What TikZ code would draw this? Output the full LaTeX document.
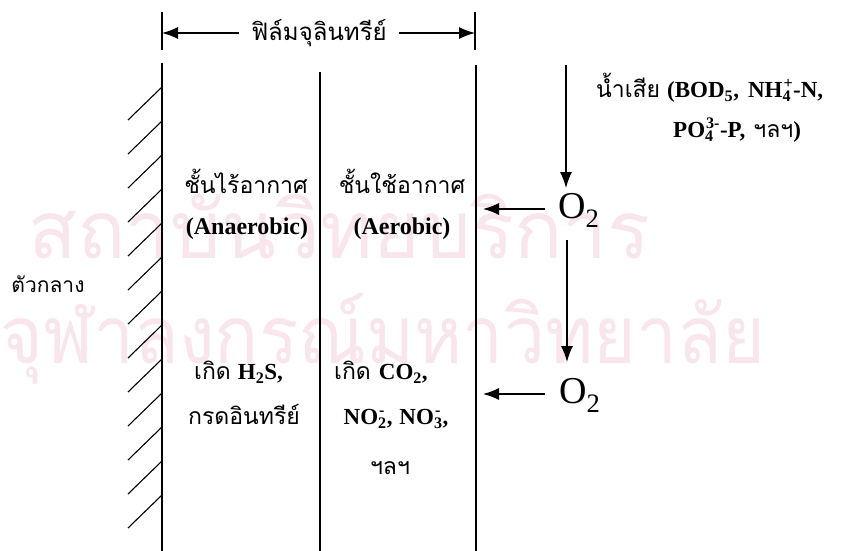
\documentclass[tikz,border=0pt]{standalone}
\usepackage{fontspec}
\setmainfont{Liberation Serif}
\newfontfamily\thai[Script=Thai]{Loma}
\usetikzlibrary{arrows.meta}
\definecolor{wm}{RGB}{249,229,236}
\newcommand\ssub[1]{\textsubscript{#1}}
\newcommand\sbsp[2]{{\setbox0=\hbox{\textsubscript{#1}}\setbox2=\hbox{\kern1pt\textsuperscript{#2}}%
  \ifdim\wd0>\wd2 \rlap{\box2}\box0\else\rlap{\box0}\box2\fi}}
\begin{document}
\begin{tikzpicture}[x=1pt,y=-1pt,
  ln/.style={line width=1.3pt},
  arr/.style={line width=1.3pt,-{Latex[length=16pt,width=12pt]}},
  th/.style={font=\thai\fontsize{23}{27}\selectfont, inner sep=0pt},
  lat/.style={font=\bfseries\fontsize{24}{28}\selectfont, inner sep=0pt},
  mix/.style={font=\fontsize{23}{27}\selectfont, inner sep=0pt},
  oxy/.style={font=\fontsize{38}{42}\selectfont, inner sep=0pt},
  wmk/.style={font=\thai\fontsize{80}{90}\selectfont, text=wm, inner sep=0pt}]
\useasboundingbox (0,0) rectangle (843,551);
% watermark
\node[wmk, anchor=base west] (wm1) at (28,258) {สถาบันวิทยบริการ};
\node[wmk, anchor=base west] (wm2) at (0,363) {\scalebox{0.915}[1]{จุฬาลงกรณ์มหาวิทยาลัย}};
% film dimension
\coordinate (tlA) at (162,12); \coordinate (tlB) at (162,50);
\coordinate (trA) at (475,12); \coordinate (trB) at (475,50);
\draw[ln] (tlA) -- (tlB);
\draw[ln] (trA) -- (trB);
\node[th, font=\thai\fontsize{24}{28}\selectfont] (film) at (319,33) {ฟิล์มจุลินทรีย์};
\coordinate (dl) at (162,33); \coordinate (dr) at (475,33);
\draw[arr] ([xshift=-12pt]film.west) -- (dl);
\draw[arr] ([xshift=12pt]film.east) -- (dr);
% vertical lines
\coordinate (w1) at (162,63); \coordinate (w2) at (162,551);
\coordinate (m1) at (320,72); \coordinate (m2) at (320,551);
\coordinate (r1) at (476,65); \coordinate (r2) at (476,551);
\draw[ln] (w1) -- (w2);
\draw[ln] (m1) -- (m2);
\draw[ln] (r1) -- (r2);
% hatching
\foreach \k in {0,...,12}{
  \draw[line width=1.1pt] (162,87+34*\k) -- (128,120+34*\k);
}
\node[th, font=\thai\fontsize{21}{25}\selectfont] (medium) at (48,284) {ตัวกลาง};
% anaerobic column
\node[th] (an1) at (246,181) {ชั้นไร้อากาศ};
\node[lat] (an2) at (247,229) {(Anaerobic)};
\node[mix, anchor=west] (an3) at (194,372) {{\thai เกิด}\hspace{7pt}\textbf{H\ssub{2}S,}};
\node[th] (an4) at (244,414) {กรดอินทรีย์};
% aerobic column
\node[th] (ae1) at (402,181) {ชั้นใช้อากาศ};
\node[lat] (ae2) at (402,229) {(Aerobic)};
\node[mix, anchor=west] (ae3) at (334,372) {{\thai เกิด}\hspace{8pt}\textbf{CO\ssub{2},}};
\node[lat, font=\bfseries\fontsize{23}{27}\selectfont] (ae4) at (396,419) {NO\sbsp{2}{-},\hspace{7pt}NO\sbsp{3}{-},};
\node[th] (ae5) at (390,468) {ฯลฯ};
% oxygen
\node[oxy, anchor=west] (o1) at (558,210) {O\ssub{2}};
\node[oxy, anchor=west] (o2) at (559,395) {O\ssub{2}};
\coordinate (o1s) at (545,209);
\coordinate (o2s) at (545,394);
\coordinate (o1e) at (483,209);
\coordinate (o2e) at (483,394);
\draw[arr] (o1s) -- (o1e);
\draw[arr] (o2s) -- (o2e);
\coordinate (topin) at (566,65);
\coordinate (topout) at (566,188);
\draw[arr] (topin) -- (topout);
\coordinate (mdA) at (567,240);
\coordinate (mdB) at (567,362);
\draw[arr] (mdA) -- (mdB);
% waste water
\node[mix, anchor=west] (ww1) at (596,88) {{\thai น้ำเสีย}\hspace{7pt}\textbf{(BOD\ssub{5},\hspace{9pt}NH\sbsp{4}{+}-N,}};
\node[lat, font=\bfseries\fontsize{23}{27}\selectfont, anchor=west] (ww2) at (673,130) {PO\sbsp{4}{3-}-P,\hspace{8pt}{\mdseries\thai ฯลฯ})};
\end{tikzpicture}
\end{document}
